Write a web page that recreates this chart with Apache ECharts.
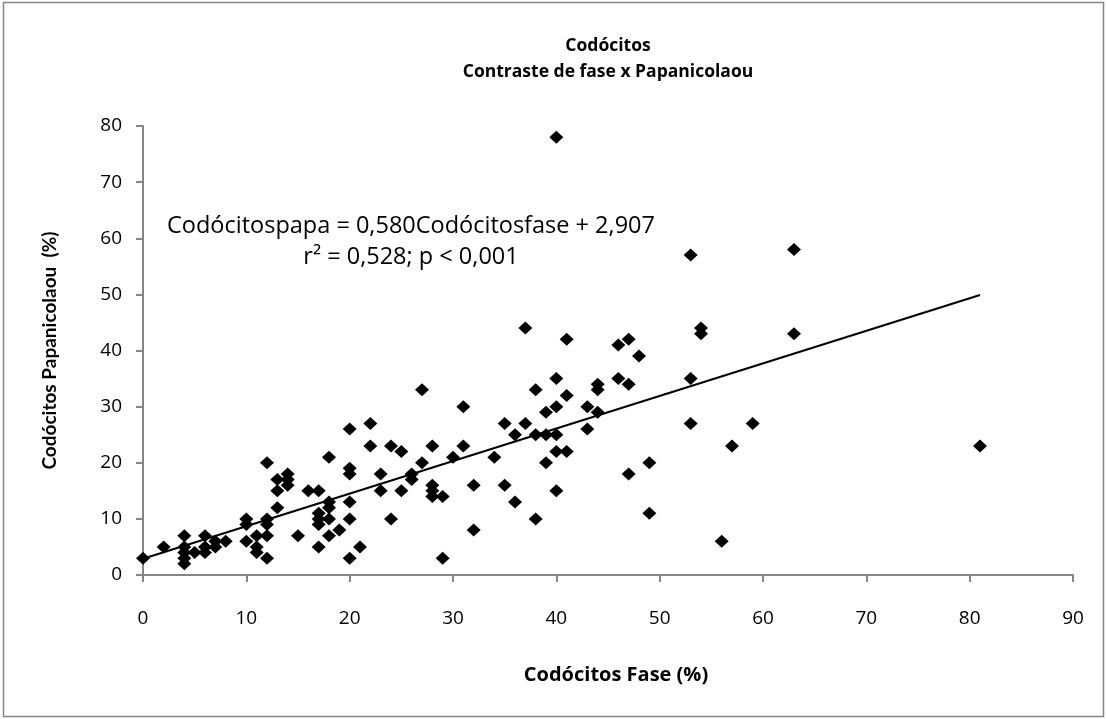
<!DOCTYPE html>
<html>
<head>
<meta charset="utf-8">
<script src="https://cdn.jsdelivr.net/npm/echarts@6/dist/echarts.min.js"></script>
<style>
  html, body { margin: 0; padding: 0; background: #fff; }
  #chart { width: 1107px; height: 719px; }
</style>
</head>
<body>
<div id="chart"></div>
<script>
// Codócitos: phase-contrast (%) vs Papanicolaou (%) for each sample
const faseValues = [
  0, 2, 4, 4, 4, 4, 4, 5, 6, 6, 6, 7, 7, 8,
  10, 10, 10, 11, 11, 11, 12, 12, 12, 12, 12,
  13, 13, 13, 14, 14, 14, 15, 16,
  17, 17, 17, 17, 17, 18, 18, 18, 18, 18, 19,
  20, 20, 20, 20, 20, 20, 21, 22, 22, 23, 23, 24, 24, 25, 25, 26, 26,
  27, 27, 28, 28, 28, 28, 29, 29, 30, 31, 31, 32, 32, 34, 35, 35, 36, 36,
  37, 37, 38, 38, 38, 39, 39, 39, 40, 40, 40, 40, 40, 40, 41, 41, 41,
  43, 43, 44, 44, 44, 46, 46, 47, 47, 47, 48, 49, 49,
  53, 53, 53, 54, 54, 56, 57, 59, 63, 63, 81
];
const papaValues = [
  3, 5, 7, 5, 4, 3, 2, 4, 7, 5, 4, 6, 5, 6,
  10, 9, 6, 7, 5, 4, 20, 10, 9, 7, 3,
  17, 15, 12, 18, 17, 16, 7, 15,
  15, 11, 10, 9, 5, 21, 13, 12, 10, 7, 8,
  26, 19, 18, 13, 10, 3, 5, 27, 23, 18, 15, 23, 10, 22, 15, 18, 17,
  33, 20, 23, 16, 15, 14, 14, 3, 21, 30, 23, 16, 8, 21, 27, 16, 25, 13,
  44, 27, 33, 25, 10, 29, 25, 20, 78, 35, 30, 25, 22, 15, 42, 32, 22,
  30, 26, 34, 33, 29, 41, 35, 42, 34, 18, 39, 20, 11,
  57, 35, 27, 44, 43, 6, 23, 27, 58, 43, 23
];

// Regression stated on the chart: papa = 0,580 * fase + 2,907
const fitSlope = 0.580;
const fitIntercept = 2.907;
const fitRange = [0, 81];

const xTicks = { min: 0, max: 90, step: 10 };
const yTicks = { min: 0, max: 80, step: 10 };

const titleLines = ['Codócitos', 'Contraste de fase x Papanicolaou'];
const equationLines = ['Codócitospapa = 0,580Codócitosfase + 2,907', 'r\u00B2 = 0,528; p < 0,001'];
const xName = 'Codócitos Fase (%)';
const yName = 'Codócitos Papanicolaou  (%)';

const points = faseValues.map((x, i) => [x, papaValues[i]]);
const fitLine = fitRange.map(x => [x, fitSlope * x + fitIntercept]);

const WIDE = '"Open Sans", Lato, sans-serif';
const NARROW = 'Lato, "Open Sans", sans-serif';
const AXIS_GREY = '#868686';

const chart = echarts.init(document.getElementById('chart'), null, { renderer: 'canvas' });
chart.setOption({
  backgroundColor: '#ffffff',
  animation: false,
  grid: { left: 143, top: 126, width: 930, height: 449, containLabel: false },
  xAxis: {
    type: 'value',
    min: xTicks.min, max: xTicks.max, interval: xTicks.step,
    name: xName,
    nameLocation: 'middle',
    nameGap: 90,
    nameTextStyle: { fontFamily: WIDE, fontSize: 20, fontWeight: 'bold', color: '#000', padding: [0, 0, 0, 16] },
    axisLine: { show: true, onZero: false, lineStyle: { color: AXIS_GREY, width: 2 } },
    axisTick: { show: true, length: 7, lineStyle: { color: AXIS_GREY, width: 2 } },
    axisLabel: { margin: 34, fontFamily: WIDE, fontSize: 19, color: '#000' },
    splitLine: { show: false }
  },
  yAxis: {
    type: 'value',
    min: yTicks.min, max: yTicks.max, interval: yTicks.step,
    name: yName,
    nameLocation: 'middle',
    nameGap: 84,
    nameTextStyle: { fontFamily: NARROW, fontSize: 19, fontWeight: 'bold', color: '#000' },
    axisLine: { show: true, onZero: false, lineStyle: { color: AXIS_GREY, width: 2 } },
    axisTick: { show: true, length: 7, lineStyle: { color: AXIS_GREY, width: 2 } },
    axisLabel: { margin: 21, fontFamily: WIDE, fontSize: 19, color: '#000' },
    splitLine: { show: false }
  },
  series: [
    {
      type: 'line',
      data: fitLine,
      symbol: 'none',
      lineStyle: { color: '#000', width: 2 },
      silent: true,
      z: 2
    },
    {
      type: 'scatter',
      data: points,
      symbol: 'diamond',
      symbolSize: [14, 13],
      itemStyle: { color: '#000', opacity: 1 },
      z: 3
    }
  ],
  graphic: [
    {
      type: 'rect',
      shape: { x: 3.5, y: 2.5, width: 1100, height: 714 },
      style: { fill: 'none', stroke: AXIS_GREY, lineWidth: 1.5 },
      silent: true
    },
    {
      type: 'text', x: 608, y: 46,
      style: { text: titleLines[0], fontFamily: WIDE, fontSize: 17.5, fontWeight: 'bold', fill: '#000', align: 'center', verticalAlign: 'middle' }
    },
    {
      type: 'text', x: 608, y: 72,
      style: { text: titleLines[1], fontFamily: WIDE, fontSize: 17.5, fontWeight: 'bold', fill: '#000', align: 'center', verticalAlign: 'middle' }
    },
    {
      type: 'text', x: 411, y: 226,
      style: { text: equationLines[0], fontFamily: WIDE, fontSize: 23.5, fill: '#000', align: 'center', verticalAlign: 'middle' }
    },
    {
      type: 'text', x: 411, y: 257,
      style: { text: equationLines[1], fontFamily: WIDE, fontSize: 23.5, fill: '#000', align: 'center', verticalAlign: 'middle' }
    }
  ]
});
</script>
</body>
</html>
